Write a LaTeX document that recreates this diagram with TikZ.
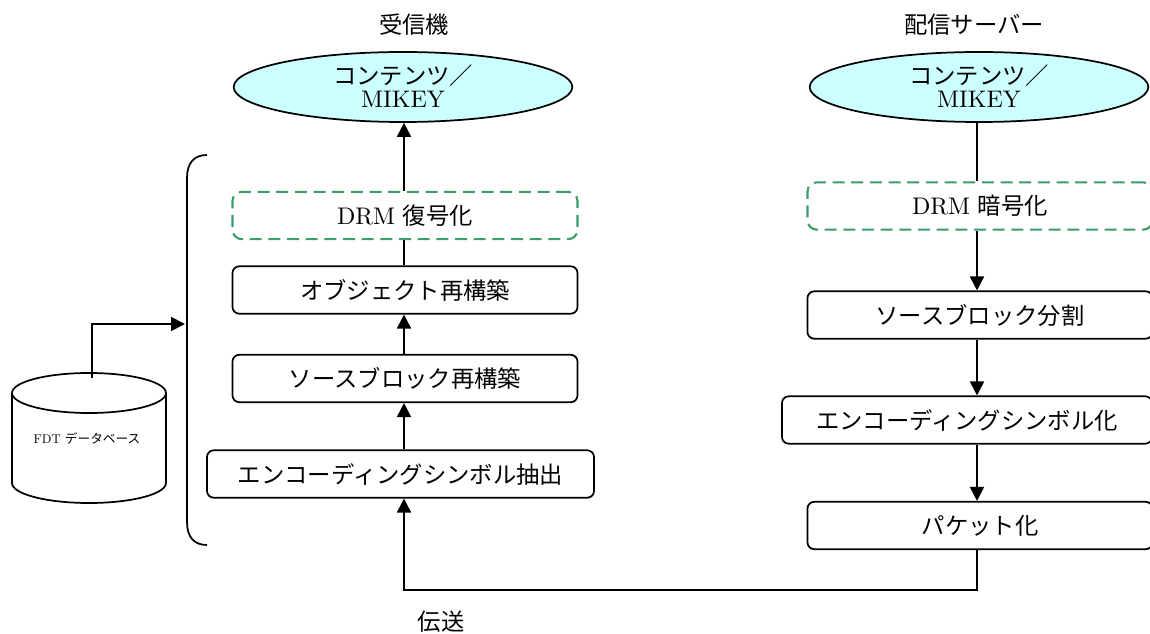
\documentclass[tikz,border=0pt]{standalone}
\usepackage{fontspec}
\setmainfont{lmroman10-regular.otf}
\newfontfamily\cjk{Noto Sans CJK JP}
\usetikzlibrary{arrows.meta,shapes.geometric}
\definecolor{ellfill}{HTML}{CCFFFF}
\definecolor{drmgreen}{HTML}{3A9E66}
\tikzset{
  line/.style={line width=1.3pt,black},
  arr/.style={line, -{Triangle[length=10.5pt,width=10.5pt]}},
  ell/.style={ellipse,draw,line width=1.3pt,fill=ellfill,minimum width=254pt,minimum height=52.5pt,inner sep=0pt},
  proc/.style={draw,line width=1.3pt,rounded corners=5pt,minimum width=258.75pt,minimum height=35.5pt,inner sep=0pt,font=\fontsize{17.5}{20}\selectfont},
  drm/.style={draw=drmgreen,line width=1.6pt,dash pattern=on 9pt off 5pt,rounded corners=7pt,minimum width=258.75pt,minimum height=35.5pt,inner sep=0pt,font=\fontsize{17.5}{20}\selectfont},
  lbl/.style={inner sep=0pt,align=center,font=\fontsize{17.5}{18}\selectfont},
}
\begin{document}
\begin{tikzpicture}[x=0.75pt,y=-0.75pt]
\useasboundingbox[fill=white] (0,0) rectangle (1150,634);

% titles
\node[lbl] (t1) at (414,25) {\cjk 受信機};
\node[lbl] (t2) at (974,25) {\cjk 配信サーバー};

% receiver column
\node[ell] (e1) at (403,87) {};
\node[lbl] (e1t) at (403,86) {{\cjk コンテンツ／}\\[-1pt]{\fontsize{18}{18}\selectfont MIKEY}};
\node[drm] (d1) at (405,215.5) {{\fontsize{18}{18}\selectfont DRM} {\cjk 復号化}};
\node[proc] (o1) at (405,290) {\cjk オブジェクト再構築};
\node[proc] (s1) at (405,378.5) {\cjk ソースブロック再構築};
\node[proc,minimum width=290.25pt] (x1) at (400.5,474) {\cjk エンコーディングシンボル抽出};

% sender column
\node[ell] (e2) at (979,87) {};
\node[lbl] (e2t) at (979,86) {{\cjk コンテンツ／}\\[-1pt]{\fontsize{18}{18}\selectfont MIKEY}};
\node[drm] (d2) at (980,206) {{\fontsize{18}{18}\selectfont DRM} {\cjk 暗号化}};
\node[proc] (s2) at (980,315) {\cjk ソースブロック分割};
\node[proc,minimum width=277.5pt] (x2) at (967,420) {\cjk エンコーディングシンボル化};
\node[proc] (p2) at (980,525.5) {\cjk パケット化};

% receiver connectors
\coordinate (rx) at (404,0);
\draw[arr] (d1.north -| rx) -- (e1.south -| rx);
\draw[line] (o1.north -| rx) -- (d1.south -| rx);
\draw[arr] (s1.north -| rx) -- (o1.south -| rx);
\draw[arr] (x1.north -| rx) -- (s1.south -| rx);

% sender connectors
\coordinate (sx) at (977,0);
\draw[line] (e2.south -| sx) -- (d2.north -| sx);
\draw[arr] (d2.south -| sx) -- (s2.north -| sx);
\draw[arr] (s2.south -| sx) -- (x2.north -| sx);
\draw[arr] (x2.south -| sx) -- (p2.north -| sx);

% transmission loop
\coordinate (bl) at (404,590);
\draw[arr] (p2.south -| sx) -- (sx |- bl) -- (bl) -- (x1.south -| rx);
\node[lbl] (tr) at (441,622) {\cjk 伝送};

% bracket
\draw[line] (207,155) .. controls (194,155) and (187,163) .. (187,178) -- (187,522) .. controls (187,537) and (194,545) .. (207,545);
\coordinate (br) at (185,324);

% database cylinder
\draw[line,fill=white] (12,393) -- (12,483) arc[start angle=180,end angle=360,x radius=57.75pt,y radius=15pt] -- (166,393);
\draw[line,fill=white] (89,393) ellipse[x radius=57.75pt,y radius=15pt];
\node[inner sep=0pt,font=\fontsize{9.5}{10}\selectfont] (db) at (87,438) {FDT {\cjk データベース}};
\coordinate (dbtop) at (92,378);
\draw[arr] (dbtop) |- (br);
\end{tikzpicture}
\end{document}
